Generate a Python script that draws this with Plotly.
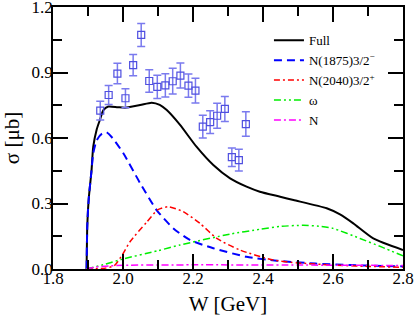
import plotly.graph_objects as go

# Experimental data
data_W = [1.935, 1.959, 1.984, 2.007, 2.029, 2.052, 2.075, 2.098, 2.121, 2.142,
          2.164, 2.187, 2.207, 2.228, 2.249, 2.269, 2.291, 2.311, 2.331, 2.351]
data_sigma = [0.725, 0.797, 0.895, 0.782, 0.934, 1.072, 0.861, 0.834, 0.841, 0.860,
              0.886, 0.840, 0.817, 0.652, 0.673, 0.702, 0.733, 0.512, 0.499, 0.664]
data_err = [0.043, 0.043, 0.047, 0.044, 0.049, 0.053, 0.052, 0.053, 0.053, 0.059,
            0.057, 0.053, 0.057, 0.052, 0.052, 0.057, 0.057, 0.042, 0.050, 0.056]

# Model curves
full_W = [1.896, 1.898, 1.902, 1.91, 1.915, 1.925, 1.934, 1.944, 1.958, 1.985, 2.006,
          2.049, 2.082, 2.105, 2.125, 2.163, 2.21, 2.258, 2.306, 2.353, 2.391, 2.449,
          2.487, 2.582, 2.62, 2.658, 2.715, 2.8]
full_sigma = [0.0, 0.2, 0.32, 0.45, 0.56, 0.64, 0.683, 0.728, 0.744, 0.741, 0.739,
              0.751, 0.762, 0.752, 0.728, 0.66, 0.56, 0.476, 0.415, 0.377, 0.354, 0.331,
              0.316, 0.278, 0.25, 0.209, 0.14, 0.087]

n1875_W = [1.896, 1.898, 1.902, 1.91, 1.915, 1.925, 1.94, 1.953, 1.97, 2.001, 2.049,
           2.096, 2.144, 2.191, 2.258, 2.353, 2.439, 2.55, 2.65, 2.8]
n1875_sigma = [0.0, 0.2, 0.32, 0.45, 0.53, 0.59, 0.62, 0.626, 0.6, 0.53, 0.393,
               0.27, 0.186, 0.133, 0.095, 0.056, 0.038, 0.025, 0.018, 0.012]

n2040_W = [1.896, 1.95, 1.975, 2.0, 2.02, 2.068, 2.1, 2.13, 2.172, 2.22, 2.268, 2.334,
           2.429, 2.5, 2.6, 2.7, 2.8]
n2040_sigma = [0.0, 0.004, 0.015, 0.07, 0.125, 0.215, 0.272, 0.285, 0.263, 0.209, 0.14,
               0.087, 0.041, 0.028, 0.018, 0.012, 0.008]

omega_W = [1.896, 1.95, 2.0, 2.1, 2.163, 2.306, 2.391, 2.449, 2.515, 2.56, 2.6, 2.677,
           2.74, 2.8]
omega_sigma = [0.0, 0.022, 0.046, 0.084, 0.11, 0.16, 0.182, 0.195, 0.2, 0.196, 0.186,
               0.14, 0.1, 0.06]

nuc_W = [1.896, 1.92, 1.96, 2.0, 2.2, 2.5, 2.8]
nuc_sigma = [0.0, 0.008, 0.014, 0.017, 0.019, 0.018, 0.016]

x_ticks = [1.8, 2.0, 2.2, 2.4, 2.6, 2.8]
y_ticks = [0.0, 0.3, 0.6, 0.9, 1.2]

FONT = "Liberation Serif"

fig = go.Figure()

fig.add_trace(go.Scatter(x=full_W, y=full_sigma, mode="lines", name="Full",
                         line=dict(color="black", width=2, shape="spline", smoothing=0.6)))
fig.add_trace(go.Scatter(x=n1875_W, y=n1875_sigma, mode="lines", name="N(1875)3/2<sup>\u2212</sup>",
                         line=dict(color="#0000ff", width=2, dash="8px,5px", shape="spline", smoothing=0.6)))
fig.add_trace(go.Scatter(x=n2040_W, y=n2040_sigma, mode="lines", name="N(2040)3/2<sup>+</sup>",
                         line=dict(color="#ff0000", width=1.5, dash="6px,3px,2px,3px", shape="spline", smoothing=0.6)))
fig.add_trace(go.Scatter(x=omega_W, y=omega_sigma, mode="lines", name="\u03c9",
                         line=dict(color="#00ee00", width=1.5, dash="7px,3px,2px,3px,2px,3px", shape="spline", smoothing=0.6)))
fig.add_trace(go.Scatter(x=nuc_W, y=nuc_sigma, mode="lines", name="N",
                         line=dict(color="#ff00ff", width=1.5, dash="7px,3px,2px,3px", shape="spline", smoothing=0.6)))

fig.add_trace(go.Scatter(x=data_W, y=data_sigma, mode="markers", showlegend=False,
                         marker=dict(symbol="square-open", size=7, color="#4f4fe0",
                                     line=dict(width=1.2, color="#4f4fe0")),
                         error_y=dict(type="data", array=data_err, visible=True,
                                      color="#7a7aee", thickness=1.5, width=4)))

axis_common = dict(showgrid=False, zeroline=False, showline=True, linecolor="black",
                   linewidth=1.5, mirror="ticks", ticks="inside", tickcolor="black",
                   tickwidth=1.5, automargin=False, ticklabeloverflow="allow",
                   tickfont=dict(family=FONT, size=17, color="black"))

fig.update_xaxes(range=[1.8, 2.8], tickvals=x_ticks, ticktext=[f"{v:.1f}" for v in x_ticks],
                 ticklen=15, ticklabelstandoff=-7,
                 minor=dict(dtick=0.1, ticks="inside", ticklen=9, tickcolor="black", tickwidth=1.5),
                 title=dict(text="W [GeV]", font=dict(family=FONT, size=21, color="black"), standoff=16),
                 **axis_common)
fig.update_yaxes(range=[0, 1.2], tickvals=y_ticks, ticktext=[f"{v:.1f}" for v in y_ticks],
                 ticklen=15, ticklabelstandoff=-5,
                 minor=dict(dtick=0.15, ticks="inside", ticklen=9, tickcolor="black", tickwidth=1.5),
                 title=dict(text="\u03c3 [\u03bcb]", font=dict(family=FONT, size=21, color="black"), standoff=8),
                 **axis_common)

fig.update_layout(
    width=415, height=316,
    margin=dict(l=53, r=12, t=7, b=47),
    plot_bgcolor="white", paper_bgcolor="white",
    font=dict(family=FONT, color="black"),
    legend=dict(x=0.617, y=0.93, xanchor="left", yanchor="top",
                bgcolor="rgba(0,0,0,0)", font=dict(family=FONT, size=13, color="black"),
                itemwidth=30, tracegroupgap=0),
)

fig.write_html("out.html", config={"displayModeBar": False},
               post_script="document.body.style.margin='0';document.body.style.overflow='hidden';")
